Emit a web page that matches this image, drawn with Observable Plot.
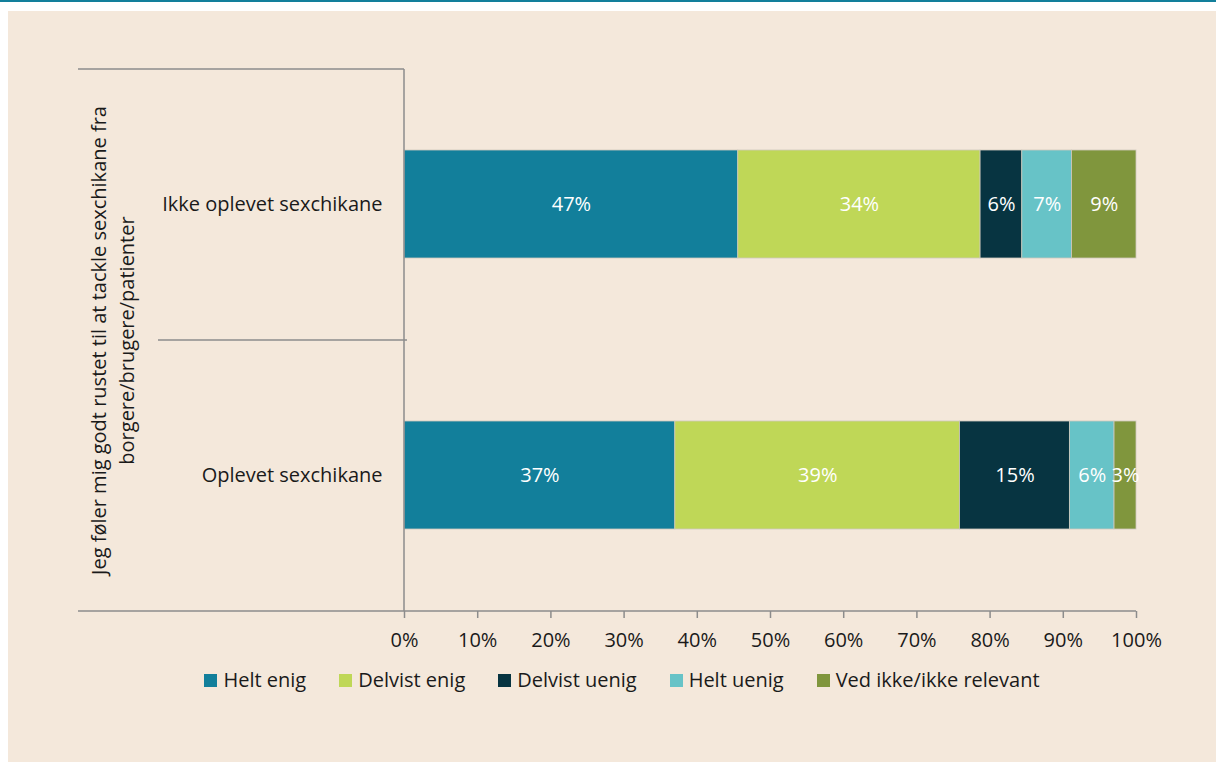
<!DOCTYPE html>
<html>
<head>
<meta charset="utf-8">
<script src="https://cdn.jsdelivr.net/npm/d3@7"></script>
<script src="https://cdn.jsdelivr.net/npm/@observablehq/plot@0.6"></script>
<style>
  html, body { margin: 0; padding: 0; background: #ffffff; }
  body { width: 1216px; height: 762px; overflow: hidden; position: relative; font-family: "Open Sans", "Noto Sans", sans-serif; }
  #topline { position: absolute; left: 0; top: 0; width: 1216px; height: 2px; background: #127f9b; }
  #panel { position: absolute; left: 8px; top: 11px; width: 1208px; height: 751px; background: #f4e8db; }
  #legend { position: absolute; left: 0; width: 1228px; top: 656px; display: flex; justify-content: center; gap: 33px; font-size: 20px; color: #1a1a1a; line-height: 26px; }
  .item { display: flex; align-items: center; }
  .sw { width: 13px; height: 13px; margin-right: 6px; }
</style>
</head>
<body>
<div id="topline"></div>
<div id="panel"><div id="chart"></div><div id="legend"></div></div>
<script>
const categories = ["Ikke oplevet sexchikane", "Oplevet sexchikane"];
const responses = ["Helt enig", "Delvist enig", "Delvist uenig", "Helt uenig", "Ved ikke/ikke relevant"];
const colors = ["#127f9b", "#bfd757", "#073441", "#67c3c7", "#80963d"];
const ikkeOplevetValues = [45.6, 33.1, 5.7, 6.8, 8.8];
const ikkeOplevetLabels = ["47%", "34%", "6%", "7%", "9%"];
const oplevetValues = [37.0, 38.9, 15.0, 6.1, 3.0];
const oplevetLabels = ["37%", "39%", "15%", "6%", "3%"];
const xTicks = [0, 10, 20, 30, 40, 50, 60, 70, 80, 90, 100];
const groupTitle = "Jeg føler mig godt rustet til at tackle sexchikane fra\nborgere/brugere/patienter";

const rows = [];
responses.forEach((r, i) => {
  rows.push({cat: categories[0], response: r, value: ikkeOplevetValues[i], label: ikkeOplevetLabels[i]});
  rows.push({cat: categories[1], response: r, value: oplevetValues[i], label: oplevetLabels[i]});
});

const gray = "#8c8c8c";
const leftEdge = 70;   // start of bracket lines in the left margin
const midEdge = 150;

function brackets(index, scales, values, dimensions) {
  const {width, height, marginLeft, marginRight, marginTop, marginBottom} = dimensions;
  const x0 = marginLeft;
  const xEnd = width - marginRight;
  const top = marginTop;
  const bottom = height - marginBottom;
  const mid = (top + bottom) / 2;
  const g = d3.create("svg:g").attr("stroke", gray).attr("stroke-width", 1.5).attr("fill", "none");
  g.append("line").attr("x1", leftEdge).attr("x2", x0).attr("y1", top).attr("y2", top);
  g.append("line").attr("x1", midEdge).attr("x2", x0 + 3).attr("y1", mid).attr("y2", mid);
  g.append("line").attr("x1", leftEdge).attr("x2", xEnd).attr("y1", bottom).attr("y2", bottom);
  g.append("line").attr("x1", x0).attr("x2", x0).attr("y1", top).attr("y2", bottom);
  return g.node();
}

const chart = Plot.plot({
  width: 1208,
  height: 645,
  marginLeft: 396,
  marginRight: 80,
  marginTop: 58,
  marginBottom: 45,
  style: {background: "transparent", fontFamily: "'Open Sans', 'Noto Sans', sans-serif", fontSize: "20px", color: "#1a1a1a"},
  x: {domain: [0, 100]},
  y: {domain: categories, paddingInner: 0.6, paddingOuter: 0.3},
  color: {domain: responses, range: colors},
  marks: [
    Plot.barX(rows, Plot.stackX({x: "value", y: "cat", z: "response", order: responses, fill: "response", stroke: "#cfc9bd", strokeWidth: 0.8})),
    Plot.text(rows, Plot.stackX({x: "value", y: "cat", z: "response", order: responses, text: "label", fill: "white", fontSize: 20})),
    brackets,
    Plot.axisX({ticks: xTicks, tickFormat: d => d + "%", tickSize: 7, tickPadding: 14, stroke: gray, strokeWidth: 1.5, fontSize: 20, label: null}),
    Plot.axisY({tickSize: 0, tickPadding: 22, fontSize: 20, label: null}),
    Plot.text([groupTitle], {frameAnchor: "left", textAnchor: "middle", lineAnchor: "middle", rotate: -90, dx: -293, lineHeight: 1.4, fontSize: 20, fill: "#1a1a1a"})
  ]
});
document.getElementById("chart").appendChild(chart);

const legend = document.getElementById("legend");
responses.forEach((r, i) => {
  const item = document.createElement("div");
  item.className = "item";
  const sw = document.createElement("span");
  sw.className = "sw";
  sw.style.background = colors[i];
  const t = document.createElement("span");
  t.textContent = r;
  item.appendChild(sw);
  item.appendChild(t);
  legend.appendChild(item);
});
</script>
</body>
</html>
